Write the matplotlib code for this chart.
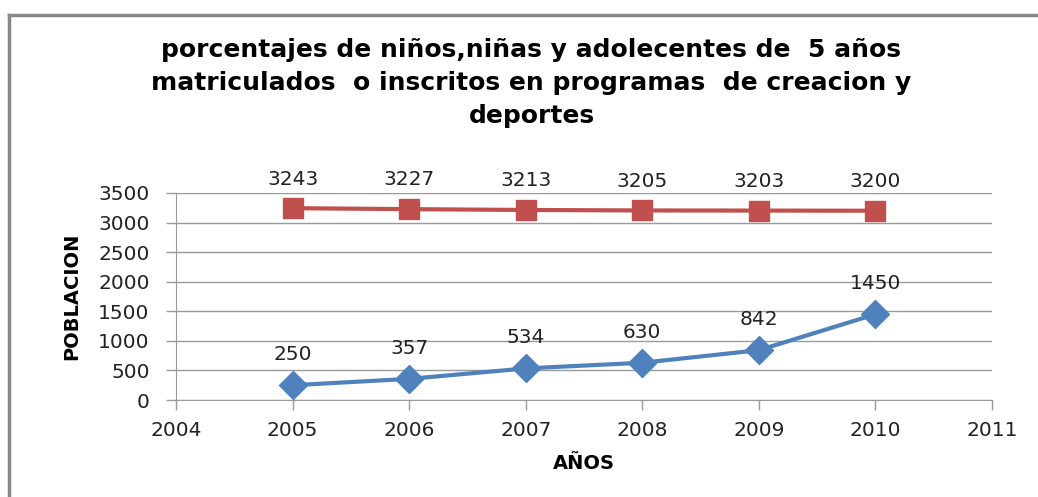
import matplotlib
matplotlib.use("Agg")
import matplotlib.pyplot as plt
from matplotlib.lines import Line2D

years = [2005, 2006, 2007, 2008, 2009, 2010]
serie_azul = [250, 357, 534, 630, 842, 1450]
serie_roja = [3243, 3227, 3213, 3205, 3203, 3200]
yticks = [0, 500, 1000, 1500, 2000, 2500, 3000, 3500]
xticks = [2004, 2005, 2006, 2007, 2008, 2009, 2010, 2011]

titulo = ("porcentajes de niños,niñas y adolecentes de  5 años\n"
          "matriculados  o inscritos en programas  de creacion y\n"
          "deportes")

azul = "#4F81BD"
rojo = "#C0504D"
gris = "#9a9a9a"

fig = plt.figure(figsize=(10.38, 4.97), dpi=100)
ax = fig.add_axes([176 / 1038, 1 - 400 / 497, (992 - 176) / 1038, (400 - 193) / 497])

ax.plot(years, serie_azul, color=azul, lw=3, marker="D", ms=14, zorder=3)
ax.plot(years, serie_roja, color=rojo, lw=3, marker="s", ms=14, zorder=3)

for x, y in zip(years, serie_azul):
    ax.annotate(str(y), (x, y), xytext=(0, 22), textcoords="offset points",
                ha="center", va="center", fontsize=14.5, color="#222222")
for x, y in zip(years, serie_roja):
    ax.annotate(str(y), (x, y), xytext=(0, 21), textcoords="offset points",
                ha="center", va="center", fontsize=14.5, color="#222222")

ax.set_xlim(2004, 2011)
ax.set_ylim(0, 3500)
ax.set_xticks(xticks)
ax.set_yticks(yticks)
ax.tick_params(labelsize=14.5, colors=gris, labelcolor="#222222", length=7, width=1)
ax.tick_params(axis="x", pad=8)
ax.tick_params(axis="y", pad=12)
ax.grid(axis="y", color=gris, lw=1)
ax.set_axisbelow(True)
for s in ["top", "right"]:
    ax.spines[s].set_visible(False)
for s in ["left", "bottom"]:
    ax.spines[s].set_color(gris)

ax.set_ylabel("POBLACION", fontsize=14, fontweight="bold", labelpad=12)
ax.set_xlabel("AÑOS", fontsize=14, fontweight="bold", labelpad=10)

fig.text(0.512, 1 - 83 / 497, titulo, ha="center", va="center", fontsize=18,
         fontweight="bold", linespacing=1.45)

# marco exterior del grafico
fig.add_artist(Line2D([9 / 1038, 9 / 1038], [0, 1 - 15 / 497], color="#888888", lw=2.5,
                      transform=fig.transFigure))
fig.add_artist(Line2D([9 / 1038, 1], [1 - 15 / 497, 1 - 15 / 497], color="#888888", lw=2.5,
                      transform=fig.transFigure))

fig.savefig("out.png", dpi=100)
